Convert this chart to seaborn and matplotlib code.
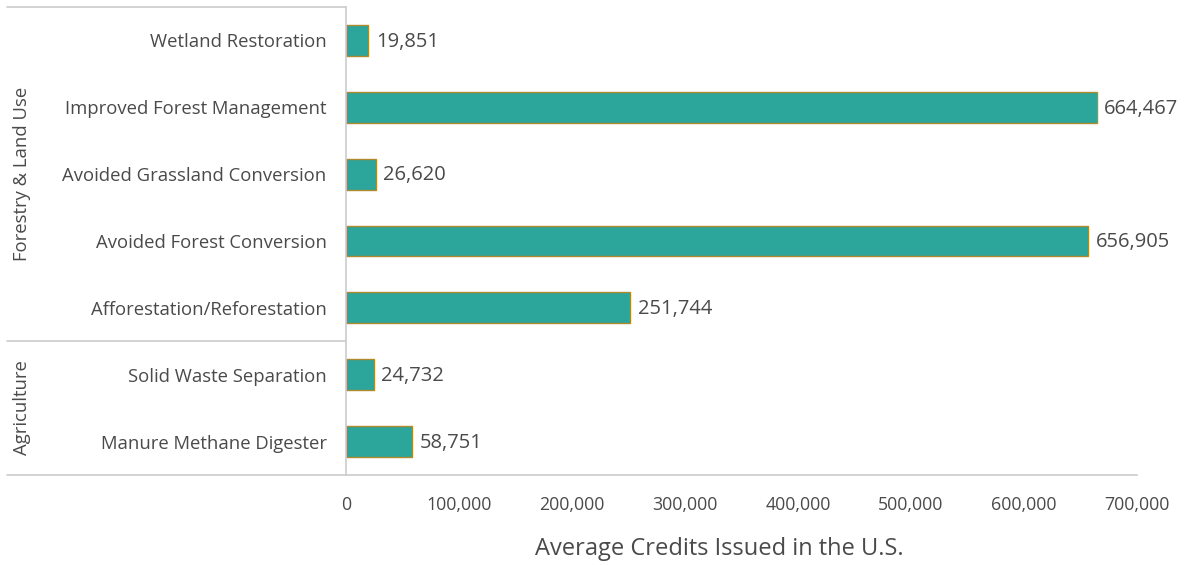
import matplotlib
matplotlib.use("Agg")
import matplotlib.pyplot as plt
import seaborn as sns
import pandas as pd
from matplotlib.lines import Line2D

# Project types, top to bottom, and their average credits issued
project_types = [
    "Wetland Restoration",
    "Improved Forest Management",
    "Avoided Grassland Conversion",
    "Avoided Forest Conversion",
    "Afforestation/Reforestation",
    "Solid Waste Separation",
    "Manure Methane Digester",
]
avg_credits = [19851, 664467, 26620, 656905, 251744, 24732, 58751]
sectors = ["Forestry & Land Use"] * 5 + ["Agriculture"] * 2
x_ticks = [0, 100000, 200000, 300000, 400000, 500000, 600000, 700000]

df = pd.DataFrame({"project": project_types, "credits": avg_credits, "sector": sectors})

sns.set_theme(style="white")
plt.rcParams["font.family"] = ["Open Sans", "DejaVu Sans"]

TEXT = "#4a4a4a"
LINE = "#cccccc"
BAR = "#2ca59a"
EDGE = "#b08a2e"

fig = plt.figure(figsize=(11.92, 5.65), dpi=100)
ax = fig.add_axes([346 / 1192, 1 - 475 / 565, (1137 - 346) / 1192, (475 - 7) / 565])

sns.barplot(data=df, y="project", x="credits", orient="h", color=BAR,
            width=0.46, edgecolor=EDGE, linewidth=1.0, saturation=1, ax=ax)

ax.set_xlim(0, 700000)
ax.set_ylim(len(project_types) - 0.5, -0.5)
ax.set_xticks(x_ticks)
ax.set_xticklabels([f"{t:,}" for t in x_ticks], fontsize=12.8, color=TEXT)
ax.tick_params(axis="x", length=7, width=1, color=LINE, pad=8)
ax.tick_params(axis="y", length=0, pad=14)
for lbl in ax.get_yticklabels():
    lbl.set_fontsize(13.3)
    lbl.set_color(TEXT)
ax.set_ylabel("")
ax.set_xlabel("Average Credits Issued in the U.S.", fontsize=17, color=TEXT)
ax.xaxis.set_label_coords((719 - 346) / (1137 - 346), -(549 - 475) / (475 - 7))
ax.xaxis.label.set_va("center")

for side in ["top", "right"]:
    ax.spines[side].set_visible(False)
for side in ["left", "bottom"]:
    ax.spines[side].set_color(LINE)
    ax.spines[side].set_linewidth(1.2)

# value labels at the end of each bar
for i, v in enumerate(avg_credits):
    ax.text(v + 6500, i + 0.02, f"{v:,}", va="center", ha="left", fontsize=14.5, color=TEXT)

# sector grouping lines and labels in the left margin
x0 = 7 / 1192
x1 = 346 / 1192
for yy in [7, 341, 475]:
    yf = 1 - yy / 565
    fig.add_artist(Line2D([x0, x1], [yf, yf], transform=fig.transFigure,
                          color=LINE, linewidth=1.2))

fig.text(22 / 1192, 1 - 174 / 565, "Forestry & Land Use", rotation=90,
         ha="center", va="center", fontsize=13.3, color=TEXT)
fig.text(22 / 1192, 1 - 408 / 565, "Agriculture", rotation=90,
         ha="center", va="center", fontsize=13.3, color=TEXT)

fig.savefig("out.png", dpi=100)
